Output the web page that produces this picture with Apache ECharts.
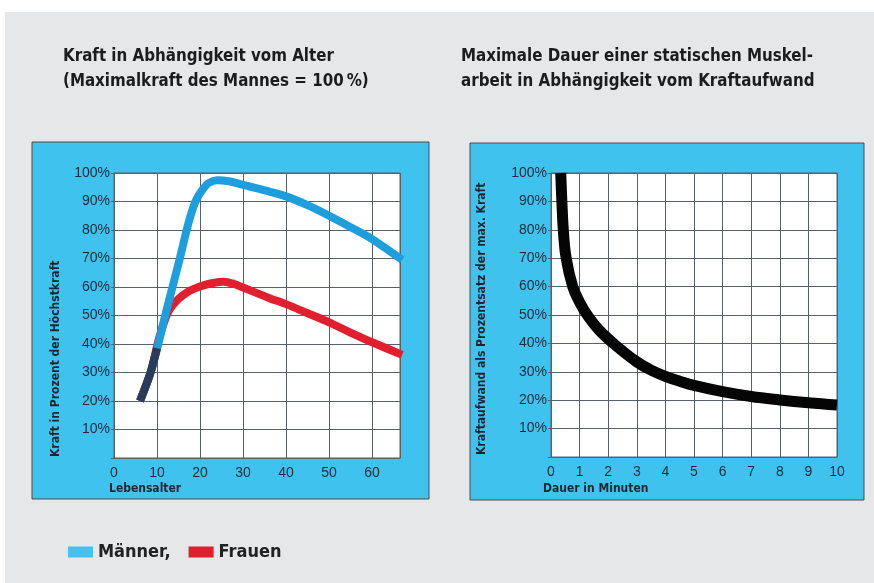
<!DOCTYPE html>
<html><head><meta charset="utf-8">
<script src="https://cdn.jsdelivr.net/npm/echarts@6/dist/echarts.min.js"></script>
<style>html,body{margin:0;padding:0;background:#fff}#c{width:874px;height:583px}</style>
</head><body><div id="c"></div>
<script>
// ---- data ----
const menAge = [6.05, 8.5, 10.3, 11.9, 13.6, 15.3, 16.9, 18, 19.1, 20.5, 22, 24, 27, 30, 36.3, 40, 45, 50, 55, 60, 67];
const menForce = [20, 30, 40, 50, 60, 70, 80, 86, 90.5, 94, 96.5, 97.5, 97, 95.8, 93.4, 91.8, 88.7, 85, 81, 76.8, 69.5];
const womenAge = [6.05, 8.5, 10.3, 11.5, 12.9, 15, 17.5, 20, 23, 25.5, 28, 30, 36.3, 40, 45, 50, 55, 60, 67];
const womenForce = [20, 30, 41, 47, 52, 55.8, 58.6, 60.2, 61.4, 61.8, 61, 59.8, 56, 54, 50.8, 47.6, 44, 40.6, 36.2];
const overlapAge = [6.05, 8.5, 10];
const overlapForce = [20, 30, 38.5];
const durMinutes = [0.34, 0.38, 0.43, 0.53, 0.76, 1.0, 1.3, 1.7, 2.3, 3, 3.5, 4, 4.5, 5, 6, 7, 8, 9, 10];
const effortPct = [100, 90, 80, 70, 60, 54.5, 49.5, 44.5, 39, 33.5, 30.6, 28.4, 26.7, 25.2, 23, 21.3, 20.1, 19.1, 18.3];
const pctTicks = [10, 20, 30, 40, 50, 60, 70, 80, 90, 100];

const zip = (a, b) => a.map((v, i) => [v, b[i]]);
const NARROW = "'DejaVu Sans Condensed','Liberation Sans',sans-serif";
const SANS = "'Liberation Sans',Arial,sans-serif";
const gridColor = '#56616b';
const labelColor = '#1c2a3a';

function xAxisOf(idx, max, interval) {
  return {
    type: 'value', gridIndex: idx, min: 0, max: max, interval: interval,
    axisLine: {show: true, lineStyle: {color: gridColor, width: 1}},
    axisTick: {show: false},
    splitLine: {show: true, lineStyle: {color: gridColor, width: 1}},
    axisLabel: {color: labelColor, fontFamily: SANS, fontSize: 14, margin: 8,
      formatter: v => (Math.abs(v / interval - Math.round(v / interval)) < 1e-6) ? String(v) : ''}
  };
}
function yAxisOf(idx) {
  return {
    type: 'value', gridIndex: idx, min: 0, max: 100, interval: 10,
    axisLine: {show: true, lineStyle: {color: gridColor, width: 1}},
    axisTick: {show: true, length: 3, lineStyle: {color: gridColor}},
    splitLine: {show: true, lineStyle: {color: gridColor, width: 1}},
    axisLabel: {color: labelColor, fontFamily: SANS, fontSize: 14, margin: 4,
      formatter: v => (pctTicks.indexOf(v) >= 0 ? v + '%' : '')}
  };
}
const nameFont = 'bold 12px ' + NARROW;

const chart = echarts.init(document.getElementById('c'), null, {renderer: 'canvas'});
chart.setOption({
  animation: false,
  backgroundColor: 'transparent',
  title: [
    {text: 'Kraft in Abhängigkeit vom Alter\n(Maximalkraft des Mannes = 100\u2009%)', left: 63, top: 44, padding: 0,
      textStyle: {fontFamily: NARROW, fontSize: 16.8, fontWeight: 'bold', color: '#1c1c1c', lineHeight: 25}},
    {text: 'Maximale Dauer einer statischen Muskel-\narbeit in Abhängigkeit vom Kraftaufwand', left: 461, top: 44, padding: 0,
      textStyle: {fontFamily: NARROW, fontSize: 16.8, fontWeight: 'bold', color: '#1c1c1c', lineHeight: 25}}
  ],
  graphic: [
    {type: 'rect', z: -100, shape: {x: 5, y: 12, width: 869, height: 571}, style: {fill: '#e6e7e9'}},
    {type: 'rect', z: -90, shape: {x: 32, y: 142, width: 397, height: 357}, style: {fill: '#3fc2ee', stroke: '#4a4a4a', lineWidth: 1}},
    {type: 'rect', z: -90, shape: {x: 470, y: 143, width: 394, height: 357}, style: {fill: '#3fc2ee', stroke: '#4a4a4a', lineWidth: 1}},
    {type: 'text', z: 10, x: 56, y: 457, rotation: Math.PI / 2, style: {text: 'Kraft in Prozent der Höchstkraft', fill: '#1c2530',
      font: nameFont, textAlign: 'left', textVerticalAlign: 'middle'}},
    {type: 'text', z: 10, x: 482, y: 455, rotation: Math.PI / 2, style: {text: 'Kraftaufwand als Prozentsatz der max. Kraft', fill: '#1c2530',
      font: nameFont, textAlign: 'left', textVerticalAlign: 'middle'}},
    {type: 'text', z: 10, x: 109, y: 489, style: {text: 'Lebensalter', fill: '#1c2530',
      font: nameFont, textAlign: 'left', textVerticalAlign: 'middle'}},
    {type: 'text', z: 10, x: 543, y: 489, style: {text: 'Dauer in Minuten', fill: '#1c2530',
      font: nameFont, textAlign: 'left', textVerticalAlign: 'middle'}}
  ],
  legend: {
    left: 63, top: 538, icon: 'rect', itemWidth: 25, itemHeight: 11, itemGap: 18,
    textStyle: {fontFamily: NARROW, fontSize: 18, fontWeight: 'bold', color: '#222'},
    formatter: n => (n === 'Männer' ? 'Männer,' : n),
    data: [
      {name: 'Männer', itemStyle: {color: '#46c0ee'}},
      {name: 'Frauen', itemStyle: {color: '#dc1f2b'}}
    ]
  },
  grid: [
    {left: 114, top: 173, width: 286, height: 285, show: true, backgroundColor: '#ffffff', borderColor: gridColor, borderWidth: 1},
    {left: 551, top: 173, width: 286, height: 284, show: true, backgroundColor: '#ffffff', borderColor: gridColor, borderWidth: 1}
  ],
  xAxis: [xAxisOf(0, 66.5, 10), xAxisOf(1, 10, 1)],
  yAxis: [yAxisOf(0), yAxisOf(1)],
  series: [
    {name: 'Frauen', type: 'line', xAxisIndex: 0, yAxisIndex: 0, data: zip(womenAge, womenForce), smooth: 0.35,
      showSymbol: false, clip: true, lineStyle: {color: '#e0202e', width: 8, cap: 'butt'}, z: 3},
    {name: 'Männer', type: 'line', xAxisIndex: 0, yAxisIndex: 0, data: zip(menAge, menForce), smooth: 0.3,
      showSymbol: false, clip: true, lineStyle: {color: '#1d9fdd', width: 8, cap: 'butt'}, z: 4},
    {name: 'overlap', type: 'line', xAxisIndex: 0, yAxisIndex: 0, data: zip(overlapAge, overlapForce), smooth: 0.3,
      showSymbol: false, clip: true, lineStyle: {color: '#2b3a58', width: 8, cap: 'butt'}, z: 5},
    {name: 'Dauer', type: 'line', xAxisIndex: 1, yAxisIndex: 1, data: zip(durMinutes, effortPct), smooth: 0.4,
      showSymbol: false, clip: true, lineStyle: {color: '#050505', width: 11, cap: 'butt'}, z: 3}
  ]
});
</script></body></html>
